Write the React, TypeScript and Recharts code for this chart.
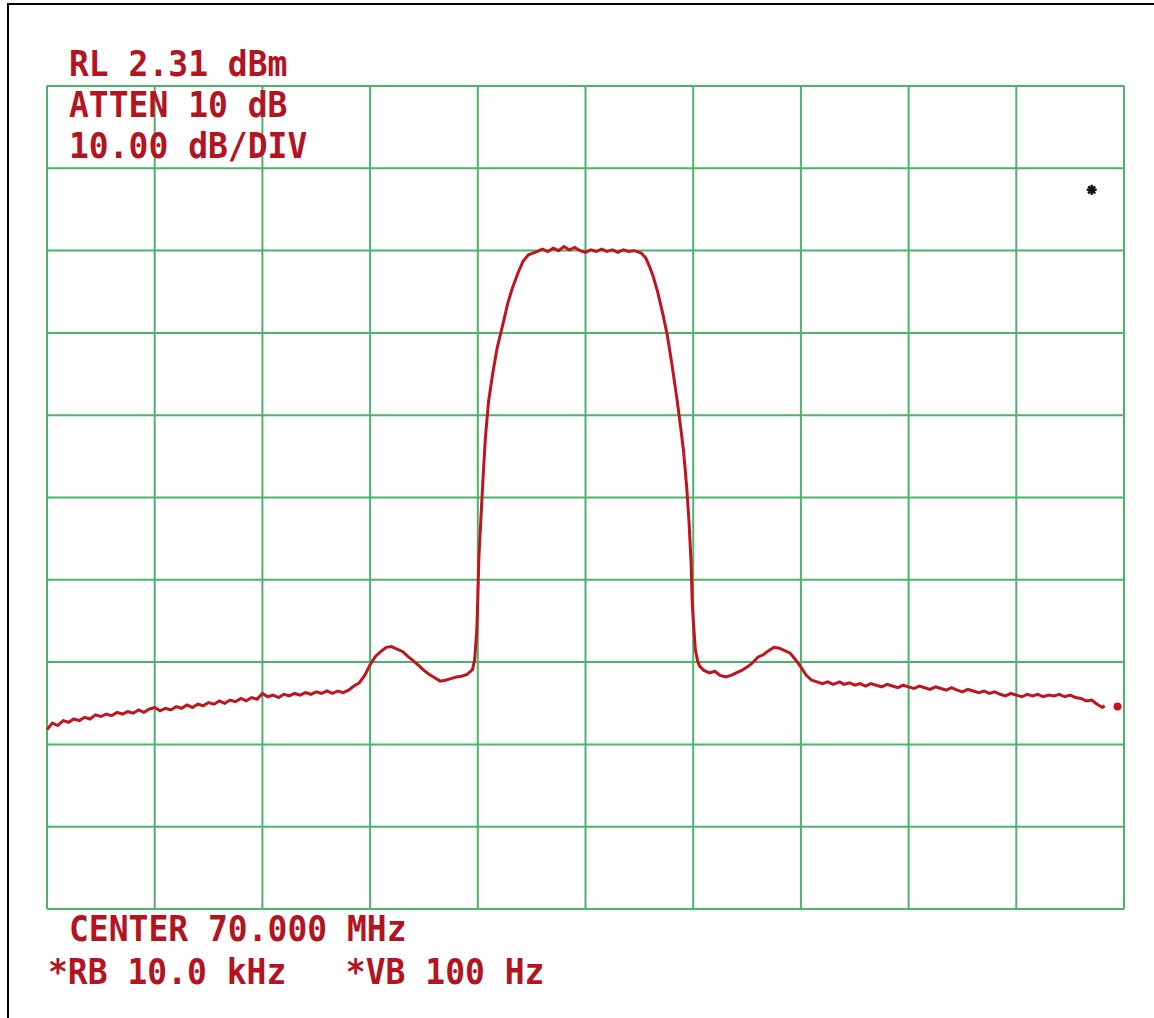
import { LineChart, Line, XAxis, YAxis, ReferenceLine, ReferenceDot } from 'recharts'

// analyzer settings
const refLevel = 2.31 // dBm, top graticule line
const dbPerDiv = 10
const divisions = 10

const topLabels = ['RL 2.31 dBm', 'ATTEN 10 dB', '10.00 dB/DIV']
const bottomLabels = ['CENTER 70.000 MHz', '*RB 10.0 kHz   *VB 100 Hz']

// trace: [horizontal division, level in dBm]
const trace: [number, number][] = [
  [0.0, -75.9], [0.05, -75.1], [0.1, -75.4], [0.15, -74.8], [0.2, -75.0], [0.25, -74.6], [0.3, -74.8],
  [0.35, -74.4], [0.4, -74.6], [0.45, -74.1], [0.5, -74.3], [0.55, -74.0], [0.6, -74.2], [0.65, -73.8],
  [0.7, -74.0], [0.75, -73.7], [0.8, -73.9], [0.85, -73.5], [0.9, -73.8], [0.95, -73.4], [1.0, -73.2],
  [1.05, -73.6], [1.1, -73.3], [1.15, -73.5], [1.2, -73.1], [1.25, -73.3], [1.3, -72.9], [1.35, -73.2],
  [1.4, -72.8], [1.45, -73.0], [1.5, -72.6], [1.55, -72.8], [1.6, -72.4], [1.65, -72.7], [1.7, -72.3],
  [1.75, -72.5], [1.8, -72.1], [1.85, -72.4], [1.9, -72.0], [1.95, -72.2], [2.0, -71.5], [2.05, -71.9],
  [2.1, -71.7], [2.15, -72.0], [2.2, -71.6], [2.25, -71.8], [2.3, -71.5], [2.35, -71.7], [2.4, -71.4],
  [2.45, -71.6], [2.5, -71.3], [2.55, -71.5], [2.6, -71.2], [2.65, -71.5], [2.7, -71.2], [2.75, -71.4],
  [2.8, -71.1], [2.85, -70.6], [2.9, -70.2], [2.95, -69.3], [3.0, -68.0], [3.05, -67.0], [3.1, -66.4],
  [3.15, -65.9], [3.2, -65.8], [3.25, -66.1], [3.3, -66.4], [3.35, -67.0], [3.4, -67.5], [3.45, -68.1],
  [3.5, -68.7], [3.55, -69.2], [3.6, -69.6], [3.65, -70.0], [3.7, -69.9], [3.75, -69.7], [3.8, -69.5],
  [3.85, -69.4], [3.9, -69.2], [3.95, -68.6], [3.97, -67.5], [3.99, -64.0], [4.0, -60.0], [4.01, -55.0],
  [4.03, -50.0], [4.05, -45.0], [4.07, -40.5], [4.1, -36.0], [4.14, -32.5], [4.18, -29.5], [4.23, -26.8],
  [4.28, -24.0], [4.32, -22.3], [4.37, -20.5], [4.42, -19.0], [4.47, -18.2], [4.53, -17.9], [4.55, -17.8],
  [4.6, -17.5], [4.65, -17.8], [4.7, -17.4], [4.75, -17.7], [4.8, -17.2], [4.85, -17.6], [4.9, -17.3],
  [4.95, -17.7], [5.0, -17.9], [5.05, -17.6], [5.1, -17.8], [5.15, -17.5], [5.2, -17.8], [5.25, -17.6],
  [5.3, -17.9], [5.35, -17.6], [5.4, -17.8], [5.45, -17.7], [5.5, -17.9], [5.52, -18.0], [5.56, -18.6],
  [5.6, -19.8], [5.63, -20.9], [5.67, -22.7], [5.72, -25.5], [5.76, -28.0], [5.8, -31.3], [5.85, -35.8],
  [5.88, -38.8], [5.91, -42.0], [5.94, -46.5], [5.96, -50.4], [5.98, -55.5], [5.99, -60.0], [6.0, -62.5],
  [6.02, -66.2], [6.04, -67.5], [6.06, -68.2], [6.1, -68.7], [6.15, -69.0], [6.2, -68.8], [6.25, -69.3],
  [6.3, -69.5], [6.35, -69.3], [6.4, -69.0], [6.45, -68.7], [6.5, -68.3], [6.55, -67.8], [6.6, -67.1],
  [6.65, -66.8], [6.7, -66.3], [6.75, -65.9], [6.8, -66.0], [6.85, -66.3], [6.9, -66.6], [6.95, -67.4],
  [7.0, -68.3], [7.05, -69.3], [7.1, -69.9], [7.15, -70.1], [7.2, -70.3], [7.25, -70.1], [7.3, -70.4],
  [7.36, -70.1], [7.4, -70.4], [7.45, -70.2], [7.5, -70.5], [7.55, -70.3], [7.6, -70.6], [7.65, -70.3],
  [7.7, -70.5], [7.75, -70.7], [7.8, -70.4], [7.85, -70.6], [7.9, -70.8], [7.95, -70.5], [8.0, -70.7],
  [8.05, -70.9], [8.1, -70.6], [8.15, -70.8], [8.2, -71.0], [8.25, -70.7], [8.3, -70.9], [8.35, -71.1],
  [8.4, -70.8], [8.45, -71.1], [8.5, -71.3], [8.55, -71.0], [8.6, -71.2], [8.65, -71.4], [8.7, -71.2],
  [8.75, -71.5], [8.8, -71.3], [8.85, -71.6], [8.9, -71.8], [8.95, -71.5], [9.0, -71.7], [9.05, -71.9],
  [9.1, -71.6], [9.15, -71.8], [9.2, -71.6], [9.25, -71.9], [9.3, -71.7], [9.35, -71.8], [9.4, -71.6],
  [9.45, -71.9], [9.5, -71.7], [9.55, -72.0], [9.6, -72.1], [9.65, -72.4], [9.7, -72.3], [9.75, -72.8],
  [9.8, -73.2], [9.82, -73.0],
]

const endDot: [number, number] = [9.94, -73.1]
const starMarker: [number, number] = [9.7, -10.3]

const data = trace.map(([div, dbm]) => ({ div, dbm }))
const xTicks = Array.from({ length: divisions + 1 }, (_, i) => i)
const yTicks = Array.from({ length: divisions + 1 }, (_, i) => Number((refLevel - dbPerDiv * i).toFixed(2)))

const RED = '#c0141e'
const TEXT = '#b3141f'
const GRID = '#4cb46a'
const FONT = '"DejaVu Sans Mono", "Liberation Mono", monospace'

const Star = (props: any) => {
  const { cx, cy } = props
  const r = 5
  return (
    <g stroke="#111" strokeWidth={2.5}>
      <line x1={cx - r} y1={cy} x2={cx + r} y2={cy} />
      <line x1={cx} y1={cy - r} x2={cx} y2={cy + r} />
      <line x1={cx - 3.5} y1={cy - 3.5} x2={cx + 3.5} y2={cy + 3.5} />
      <line x1={cx - 3.5} y1={cy + 3.5} x2={cx + 3.5} y2={cy - 3.5} />
    </g>
  )
}

export default function App() {
  return (
    <div style={{ position: 'absolute', left: 0, top: 0, width: 1154, height: 1018, background: '#fff', overflow: 'hidden' }}>
      <div style={{ position: 'absolute', left: 7, top: 3, width: 1147, height: 1015, borderTop: '2px solid #000', borderLeft: '2px solid #000', boxSizing: 'border-box' }} />
      <LineChart
        width={1154}
        height={1018}
        data={data}
        margin={{ top: 86, right: 30, left: 47, bottom: 109 }}
        style={{ position: 'absolute', left: 0, top: 0 }}
      >
        <XAxis dataKey="div" type="number" domain={[0, divisions]} ticks={xTicks} hide />
        <YAxis type="number" domain={[yTicks[divisions], refLevel]} ticks={yTicks} hide />
        {xTicks.map((t) => (
          <ReferenceLine key={`x${t}`} x={t} stroke={GRID} strokeWidth={2} />
        ))}
        {yTicks.map((t) => (
          <ReferenceLine key={`y${t}`} y={t} stroke={GRID} strokeWidth={2} />
        ))}
        <Line type="linear" dataKey="dbm" stroke={RED} strokeWidth={3} dot={false} isAnimationActive={false} />
        <ReferenceDot x={endDot[0]} y={endDot[1]} r={4} fill={RED} stroke="none" />
        <ReferenceDot x={starMarker[0]} y={starMarker[1]} shape={Star} />
      </LineChart>
      <svg width={1154} height={1018} style={{ position: 'absolute', left: 0, top: 0, pointerEvents: 'none' }}>
        <g fill={TEXT} fontFamily={FONT} fontSize={33} fontWeight="bold">
          {topLabels.map((t, i) => (
            <text key={t} x={0} y={0} transform={`translate(69 ${76 + i * 41}) scale(1 1.08)`} style={{ whiteSpace: 'pre' }}>
              {t}
            </text>
          ))}
          {bottomLabels.map((t, i) => (
            <text key={t} x={0} y={0} transform={`translate(${i === 0 ? 69 : 48} ${941 + i * 43}) scale(1 1.08)`} style={{ whiteSpace: 'pre' }}>
              {t}
            </text>
          ))}
        </g>
      </svg>
    </div>
  )
}
